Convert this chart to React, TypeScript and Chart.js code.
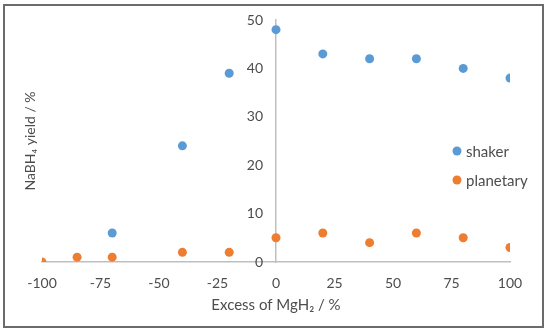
import React, { useEffect, useRef } from "react";
import { Chart, registerables } from "chart.js";

Chart.register(...registerables);

const shakerX = [-70, -40, -20, 0, 20, 40, 60, 80, 100];
const shakerY = [6, 24, 39, 48, 43, 42, 42, 40, 38];
const planetaryX = [-100, -85, -70, -40, -20, 0, 20, 40, 60, 80, 100];
const planetaryY = [0, 1, 1, 2, 2, 5, 6, 4, 6, 5, 3];
const xTicks = [-100, -75, -50, -25, 0, 25, 50, 75, 100];
const yTicks = [0, 10, 20, 30, 40, 50];
const seriesNames = ["shaker", "planetary"];
const seriesColors = ["#5B9BD5", "#ED7D31"];
const xTitle = "Excess of MgH\u2082 / %";
const yTitle = "NaBH\u2084 yield / %";

const FONT = "Lato, 'Open Sans', sans-serif";
const GRAY = "#4d4d4d";

const decorPlugin = {
  id: "decor",
  afterDraw(chart: any) {
    const ctx = chart.ctx;
    const area = chart.chartArea;
    const xs = chart.scales.x;
    const ys = chart.scales.y;
    ctx.save();
    // outer frame
    ctx.strokeStyle = "#6b6b6b";
    ctx.lineWidth = 2;
    ctx.strokeRect(4, 5, 539, 322);
    // y tick labels next to the axis at x = 0
    ctx.fillStyle = GRAY;
    ctx.font = `14px ${FONT}`;
    ctx.textAlign = "right";
    ctx.textBaseline = "middle";
    const axisX = xs.getPixelForValue(0);
    yTicks.forEach((v) => {
      ctx.fillText(String(v), axisX - 13, ys.getPixelForValue(v));
    });
    // x title
    ctx.font = `15px ${FONT}`;
    ctx.textAlign = "center";
    ctx.fillText(xTitle, (area.left + area.right) / 2, 305);
    // y title
    ctx.save();
    ctx.font = `14px ${FONT}`;
    ctx.translate(30, (area.top + area.bottom) / 2);
    ctx.rotate(-Math.PI / 2);
    ctx.fillText(yTitle, 0, 0);
    ctx.restore();
    // legend
    ctx.font = `15px ${FONT}`;
    ctx.textAlign = "left";
    const legendY = [151, 180];
    seriesNames.forEach((name, i) => {
      ctx.beginPath();
      ctx.fillStyle = seriesColors[i];
      ctx.arc(457, legendY[i], 4.5, 0, Math.PI * 2);
      ctx.fill();
      ctx.fillStyle = GRAY;
      ctx.fillText(name, 466, legendY[i] + 1);
    });
    ctx.restore();
  },
};

export default function App() {
  const ref = useRef<HTMLCanvasElement>(null);
  useEffect(() => {
    document.body.style.margin = "0";
    const canvas = ref.current!;
    const mk = (xs: number[], ys: number[]) => xs.map((x, i) => ({ x, y: ys[i] }));
    const chart = new Chart(canvas, {
      type: "scatter",
      data: {
        datasets: [
          {
            label: seriesNames[0],
            data: mk(shakerX, shakerY),
            backgroundColor: seriesColors[0],
            borderColor: seriesColors[0],
            pointRadius: 4.5,
            borderWidth: 0,
          },
          {
            label: seriesNames[1],
            data: mk(planetaryX, planetaryY),
            backgroundColor: seriesColors[1],
            borderColor: seriesColors[1],
            pointRadius: 4.5,
            borderWidth: 0,
          },
        ],
      },
      options: {
        responsive: false,
        animation: false,
        layout: { padding: { left: 42, right: 40, top: 20, bottom: 0 } },
        plugins: { legend: { display: false }, tooltip: { enabled: false } },
        scales: {
          x: {
            type: "linear",
            min: -100,
            max: 100,
            afterBuildTicks: (s: any) => {
              s.ticks = xTicks.map((v) => ({ value: v }));
            },
            afterFit: (s: any) => {
              s.height = 72;
            },
            grid: { display: false, drawTicks: false },
            border: { display: true, color: "#BFBFBF", width: 1.5 },
            ticks: {
              color: GRAY,
              font: { family: FONT, size: 14 },
              padding: 13,
              maxRotation: 0,
            },
          },
          y: {
            type: "linear",
            min: 0,
            max: 50,
            position: { x: 0 } as any,
            afterBuildTicks: (s: any) => {
              s.ticks = yTicks.map((v) => ({ value: v }));
            },
            grid: { display: false, drawTicks: false },
            border: { display: true, color: "#BFBFBF", width: 1.5 },
            ticks: { display: false },
          },
        },
      },
      plugins: [decorPlugin],
    });
    return () => chart.destroy();
  }, []);
  return (
    <div style={{ width: 550, height: 334, background: "#fff" }}>
      <canvas ref={ref} width={550} height={334} style={{ display: "block" }} />
    </div>
  );
}
